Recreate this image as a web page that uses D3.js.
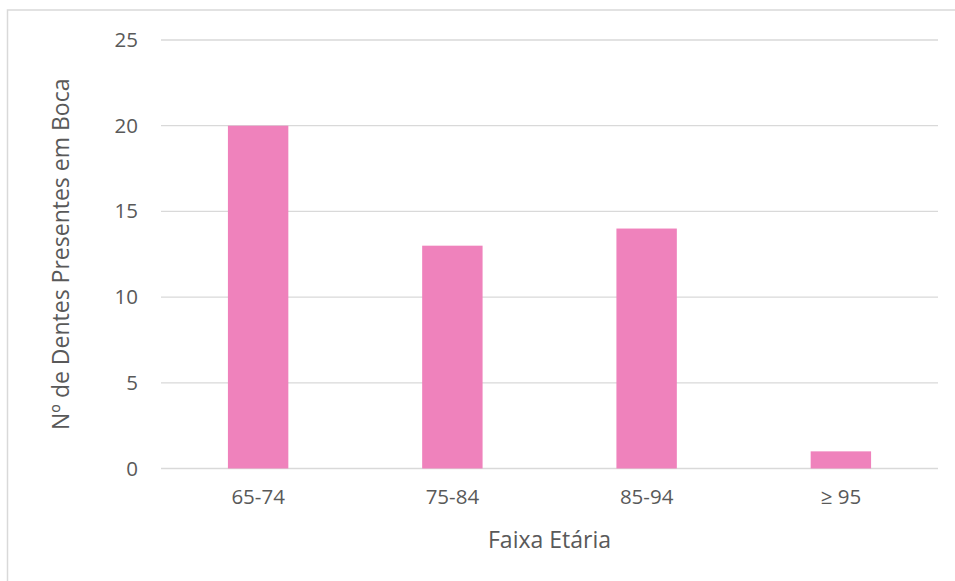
<!DOCTYPE html>
<html>
<head>
<meta charset="utf-8">
<script src="https://cdn.jsdelivr.net/npm/d3@7/dist/d3.min.js"></script>
<style>
  html, body { margin: 0; padding: 0; background: #fff; }
  svg text { font-family: "Open Sans", "Noto Sans", sans-serif; fill: #595959; }
</style>
</head>
<body>
<svg id="chart" width="955" height="581"></svg>
<script>
// Teeth present in the mouth by age group
const categories = ["65-74", "75-84", "85-94", "\u2265 95"];
const teethValues = [20, 13, 14, 1];
const yTickValues = [0, 5, 10, 15, 20, 25];

const svg = d3.select("#chart");
const W = 955, H = 581;
const plot = { left: 161, right: 938, top: 40, bottom: 468.5 };

// Chart frame (extends past the right and bottom edges)
svg.append("rect")
  .attr("x", 7.5).attr("y", 10)
  .attr("width", W + 20).attr("height", H + 20)
  .attr("fill", "#fff")
  .attr("stroke", "#d9d9d9").attr("stroke-width", 1.5);

const x = d3.scaleBand()
  .domain(categories)
  .range([plot.left, plot.right])
  .paddingInner(0.689)
  .paddingOuter(0.3445);

const y = d3.scaleLinear()
  .domain([0, 25])
  .range([plot.bottom, plot.top]);

// Horizontal gridlines
svg.append("g")
  .selectAll("line")
  .data(yTickValues)
  .join("line")
  .attr("x1", plot.left).attr("x2", plot.right)
  .attr("y1", d => y(d)).attr("y2", d => y(d))
  .attr("stroke", "#d9d9d9").attr("stroke-width", 1.3);

// Bars
svg.append("g")
  .selectAll("rect")
  .data(categories.map((c, i) => ({ c, v: teethValues[i] })))
  .join("rect")
  .attr("x", d => x(d.c))
  .attr("width", x.bandwidth())
  .attr("y", d => y(d.v))
  .attr("height", d => y(0) - y(d.v))
  .attr("fill", "#ef82bc");

// Y axis labels
const yAxis = svg.append("g")
  .attr("transform", `translate(${plot.left},0)`)
  .call(d3.axisLeft(y).tickValues(yTickValues).tickSize(0).tickPadding(23));
yAxis.select(".domain").remove();
yAxis.selectAll("text")
  .style("font-size", "20.5px")
  .style("fill", "#595959")
  .style("font-family", "\"Open Sans\", sans-serif");

// X axis labels
const xAxis = svg.append("g")
  .attr("transform", `translate(0,${plot.bottom})`)
  .call(d3.axisBottom(x).tickSize(0).tickPadding(21));
xAxis.select(".domain").remove();
xAxis.selectAll("text")
  .style("font-size", "20.5px")
  .style("fill", "#595959")
  .style("font-family", "\"Open Sans\", sans-serif");

// Axis titles
svg.append("text")
  .attr("x", (plot.left + plot.right) / 2)
  .attr("y", 548)
  .attr("text-anchor", "middle")
  .style("font-size", "23px")
  .text("Faixa Et\u00e1ria");

svg.append("text")
  .attr("transform", `translate(69,${(plot.top + plot.bottom) / 2}) rotate(-90)`)
  .attr("text-anchor", "middle")
  .style("font-size", "23px")
  .text("N\u00ba de Dentes Presentes em Boca");
</script>
</body>
</html>
